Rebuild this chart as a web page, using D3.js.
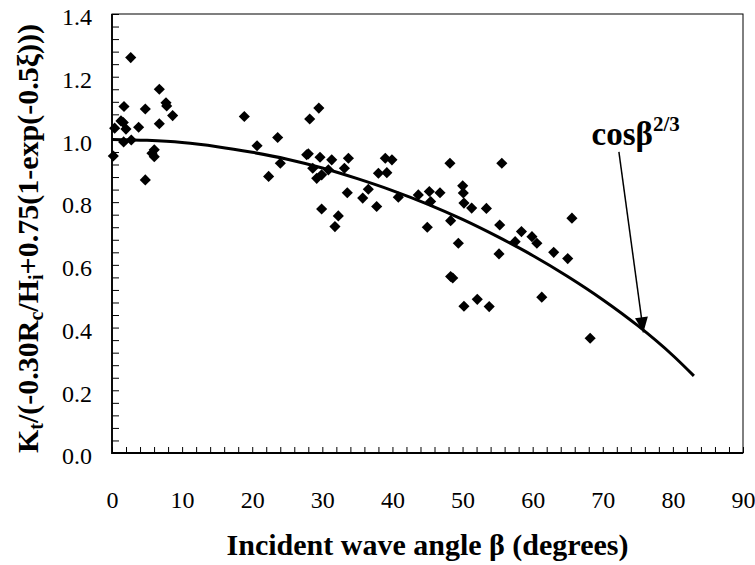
<!DOCTYPE html>
<html>
<head>
<meta charset="utf-8">
<script src="https://cdn.jsdelivr.net/npm/d3@7"></script>
<style>
  body { margin: 0; background: #fff; }
  svg { display: block; font-family: "Liberation Serif", "Times New Roman", serif; }
  svg text { font-family: "Liberation Serif", "Times New Roman", serif !important; }
</style>
</head>
<body>
<div id="chart"></div>
<script>
// measured points (incident angle, normalised Kt)
const angles = [0.19, 0.38, 1.28, 1.61, 1.66, 1.71, 1.99, 2.67, 2.75, 3.80,
  4.75, 4.75, 5.70, 6.03, 6.03, 6.75, 6.75, 7.70, 7.80, 8.65,
  18.87, 20.69, 22.34, 23.63, 24.01, 27.77, 28.0, 28.2, 28.63, 29.2,
  29.5, 29.67, 29.9, 29.9, 30.86, 31.34, 31.8, 32.28, 33.15, 33.56,
  33.72, 35.76, 36.56, 37.75, 38.0, 38.98, 39.2, 39.93, 40.84, 43.69,
  44.97, 45.26, 45.45, 46.78, 48.2, 48.3, 48.3, 48.6, 49.4, 50.02,
  50.11, 50.2, 50.2, 51.3, 52.1, 53.4, 53.8, 55.2, 55.3, 55.6,
  57.5, 58.4, 59.9, 60.6, 61.3, 63.0, 65.0, 65.6, 68.2];
const ktValues = [0.947, 1.036, 1.059, 1.054, 0.992, 1.105, 1.033, 1.261, 0.998, 1.039,
  1.097, 0.871, 0.956, 0.967, 0.945, 1.160, 1.050, 1.117, 1.107, 1.076,
  1.073, 0.980, 0.882, 1.006, 0.924, 0.951, 0.954, 1.065, 0.908, 0.876,
  1.100, 0.943, 0.887, 0.778, 0.903, 0.935, 0.722, 0.756, 0.908, 0.830,
  0.940, 0.813, 0.841, 0.786, 0.892, 0.940, 0.894, 0.935, 0.816, 0.823,
  0.720, 0.834, 0.802, 0.830, 0.924, 0.741, 0.563, 0.558, 0.669, 0.852,
  0.829, 0.797, 0.468, 0.781, 0.490, 0.780, 0.467, 0.635, 0.727, 0.924,
  0.674, 0.706, 0.690, 0.669, 0.497, 0.640, 0.620, 0.749, 0.366];

// cos(beta)^(2/3) curve
const curveAngles = [0, 5, 10, 15, 20, 25, 30, 35, 40, 45, 50, 55, 60, 65, 70, 75, 80, 83];
const curveValues = [1.000, 0.997, 0.990, 0.977, 0.959, 0.937, 0.909, 0.875, 0.837, 0.794,
  0.745, 0.690, 0.630, 0.563, 0.489, 0.406, 0.311, 0.246];

const xTicks = [0, 10, 20, 30, 40, 50, 60, 70, 80, 90];
const yTicks = [0.0, 0.2, 0.4, 0.6, 0.8, 1.0, 1.2, 1.4];

const points = angles.map((a, i) => ({ a: a, k: ktValues[i] }));
const curve = curveAngles.map((a, i) => ({ a: a, k: curveValues[i] }));

let W = 755, H = 565;
let margin = { top: 14, right: 12, bottom: 112, left: 112 },
    width = W - margin.left - margin.right,
    height = H - margin.top - margin.bottom;

let svg = d3.select("#chart")
  .append("svg")
  .attr("width", W)
  .attr("height", H)
  .append("g")
  .attr("transform", "translate(" + margin.left + "," + margin.top + ")");

let x = d3.scaleLinear().domain([0, 90]).range([0, width]);
let y = d3.scaleLinear().domain([0, 1.4]).range([height, 0]);

// minor ticks pointing inside
svg.append("g")
  .attr("transform", "translate(0," + height + ")")
  .call(d3.axisBottom(x).tickValues(d3.range(0, 90.01, 2)).tickSize(-6).tickFormat("").tickSizeOuter(0))
  .call(g => g.select(".domain").remove())
  .selectAll("line").attr("stroke", "#000");

svg.append("g")
  .call(d3.axisLeft(y).tickValues(d3.range(0, 1.4001, 0.04)).tickSize(-7).tickFormat("").tickSizeOuter(0))
  .call(g => g.select(".domain").remove())
  .selectAll("line").attr("stroke", "#000");

// tick labels
svg.append("g")
  .attr("transform", "translate(0," + height + ")")
  .call(d3.axisBottom(x).tickValues(xTicks).tickSize(0).tickPadding(38))
  .call(g => g.select(".domain").remove())
  .selectAll("text")
  .attr("font-size", "24px")
  .attr("fill", "#000");

svg.append("g")
  .call(d3.axisLeft(y).tickValues(yTicks).tickSize(0).tickPadding(20).tickFormat(d3.format(".1f")))
  .call(g => g.select(".domain").remove())
  .selectAll("text")
  .attr("font-size", "24px")
  .attr("dy", "0.45em")
  .attr("fill", "#000");

// plot frame
svg.append("rect")
  .attr("width", width)
  .attr("height", height)
  .attr("fill", "none")
  .attr("stroke", "#000")
  .attr("stroke-width", 1);
svg.append("path")
  .attr("d", "M0,0V" + height + "H" + width)
  .attr("fill", "none")
  .attr("stroke", "#000")
  .attr("stroke-width", 1.8);

// curve
svg.append("path")
  .datum(curve)
  .attr("fill", "none")
  .attr("stroke", "#000")
  .attr("stroke-width", 3)
  .attr("d", d3.line().x(d => x(d.a)).y(d => y(d.k)).curve(d3.curveMonotoneX));

// diamonds
let diamond = d3.symbol().type(d3.symbolSquare).size(62);
svg.append("g")
  .selectAll("path")
  .data(points)
  .enter()
  .append("path")
  .attr("d", diamond)
  .attr("transform", d => "translate(" + x(d.a) + "," + y(d.k) + ") rotate(45)")
  .attr("fill", "#000");

// annotation
let lbl = svg.append("text")
  .attr("x", x(68.4))
  .attr("y", y(0.983))
  .attr("font-size", "33px")
  .attr("font-weight", "bold")
  .attr("fill", "#000");
lbl.append("tspan").text("cosβ");
lbl.append("tspan").attr("dy", -14).attr("font-size", "21px").text("2/3");

let ax1 = x(72.3), ay1 = y(0.960), ax2 = x(75.8), ay2 = y(0.385);
let ang = Math.atan2(ay2 - ay1, ax2 - ax1) * 180 / Math.PI;
svg.append("line")
  .attr("x1", ax1).attr("y1", ay1)
  .attr("x2", ax2).attr("y2", ay2)
  .attr("stroke", "#000")
  .attr("stroke-width", 1.5);
svg.append("path")
  .attr("d", "M0,0L-15,-6.5L-15,6.5Z")
  .attr("transform", "translate(" + ax2 + "," + ay2 + ") rotate(" + ang + ")")
  .attr("fill", "#000");

// axis titles
svg.append("text")
  .attr("x", width / 2)
  .attr("y", height + 102)
  .attr("text-anchor", "middle")
  .attr("font-size", "30px")
  .attr("font-weight", "bold")
  .text("Incident wave angle β (degrees)");

let yt = svg.append("text")
  .attr("transform", "translate(" + (38 - margin.left) + "," + (height / 2 + 5) + ") rotate(-90)")
  .attr("text-anchor", "middle")
  .attr("font-size", "30px")
  .attr("font-weight", "bold");
yt.append("tspan").text("K");
yt.append("tspan").attr("font-size", "20px").attr("dy", 5).text("t");
yt.append("tspan").attr("dy", -5).text("/(-0.30R");
yt.append("tspan").attr("font-size", "20px").attr("dy", 5).text("c");
yt.append("tspan").attr("dy", -5).text("/H");
yt.append("tspan").attr("font-size", "20px").attr("dy", 5).text("i");
yt.append("tspan").attr("dy", -5).text("+0.75(1-exp(-0.5ξ)))");
</script>
</body>
</html>
